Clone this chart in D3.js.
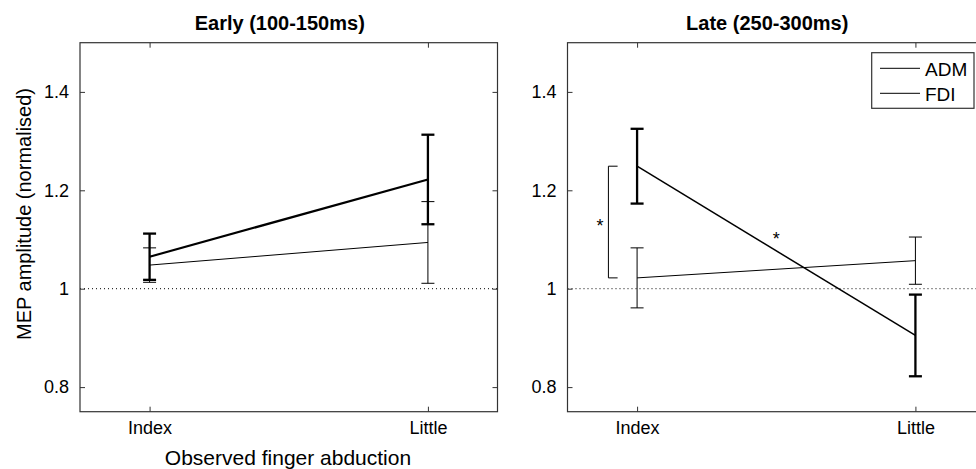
<!DOCTYPE html>
<html>
<head>
<meta charset="utf-8">
<script src="https://cdn.jsdelivr.net/npm/d3@7"></script>
<style>
  body { margin: 0; background: #fff; }
  svg { display: block; font-family: "Liberation Sans", Arial, sans-serif; }
</style>
</head>
<body>
<svg id="chart" width="976" height="469"></svg>
<script>
// --- data ---
var categories = ["Index", "Little"];
var yTicks = [0.8, 1.0, 1.2, 1.4];
var yTickLabels = ["0.8", "1", "1.2", "1.4"];

var earlyADM = [1.048, 1.094];
var earlyADMErr = [0.035, 0.083];
var earlyFDI = [1.065, 1.222];
var earlyFDIErr = [0.047, 0.091];

var lateADM = [1.022, 1.057];
var lateADMErr = [0.061, 0.048];
var lateFDI = [1.249, 0.905];
var lateFDIErr = [0.076, 0.083];

var panelTitles = ["Early (100-150ms)", "Late (250-300ms)"];
var legendLabels = ["ADM", "FDI"];

// significance markers in the late panel (data units)
var bracketX = 0.897;
var bracketCapX = 0.93;
var stars = [[0.867, 1.136], [1.50, 1.111]];

var svg = d3.select("#chart");
var plotTop = 42.7, plotBottom = 411.7;

var y = d3.scaleLinear().domain([0.75, 1.5]).range([plotBottom, plotTop]);

function drawPanel(x0, x1, title, adm, admErr, fdi, fdiErr, fdiLineWidth) {
    var x = d3.scaleLinear().domain([0.75, 2.25]).range([x0, x1]);
    var g = svg.append("g");
    var xIdx = [1, 2];

    // reference line at 1
    g.append("line")
        .attr("x1", x0).attr("x2", x1)
        .attr("y1", y(1)).attr("y2", y(1))
        .attr("stroke", "#000")
        .attr("stroke-dasharray", "1,3");

    // axes (ticks point inward, box on)
    var left = g.append("g").attr("transform", "translate(" + x0 + ",0)")
        .call(d3.axisLeft(y).tickValues(yTicks).tickSize(-5).tickPadding(11)
            .tickFormat((d, i) => yTickLabels[i]));
    var right = g.append("g").attr("transform", "translate(" + x1 + ",0)")
        .call(d3.axisRight(y).tickValues(yTicks).tickSize(-5).tickFormat(""));
    var bot = g.append("g").attr("transform", "translate(0," + plotBottom + ")")
        .call(d3.axisBottom(x).tickValues(xIdx).tickSize(-5).tickPadding(10)
            .tickFormat((d, i) => categories[i]));
    var topAx = g.append("g").attr("transform", "translate(0," + plotTop + ")")
        .call(d3.axisTop(x).tickValues(xIdx).tickSize(-5).tickFormat(""));

    [left, right, bot, topAx].forEach(function(a) {
        a.select(".domain").remove();
        a.selectAll("line").attr("stroke", "#333");
        a.selectAll("text").attr("fill", "#000").style("font-size", "18px")
            .style("font-family", "'Liberation Sans', Arial, sans-serif");
    });

    g.append("rect")
        .attr("x", x0).attr("y", plotTop)
        .attr("width", x1 - x0).attr("height", plotBottom - plotTop)
        .attr("fill", "none").attr("stroke", "#333").attr("stroke-width", 1.2);

    // series
    function series(vals, errs, lw, ew) {
        var line = d3.line().x((d, i) => x(xIdx[i])).y(d => y(d));
        g.append("path").datum(vals)
            .attr("d", line)
            .attr("fill", "none").attr("stroke", "#000").attr("stroke-width", lw);

        vals.forEach(function(v, i) {
            var cx = x(xIdx[i]);
            var eg = g.append("g").attr("stroke", "#000").attr("stroke-width", ew);
            eg.append("line").attr("x1", cx).attr("x2", cx)
                .attr("y1", y(v - errs[i])).attr("y2", y(v + errs[i]));
            [v - errs[i], v + errs[i]].forEach(function(e) {
                eg.append("line").attr("x1", cx - 6.5).attr("x2", cx + 6.5)
                    .attr("y1", y(e)).attr("y2", y(e));
            });
        });
    }
    series(adm, admErr, 1, 1);
    series(fdi, fdiErr, fdiLineWidth, 2.3);

    // title
    svg.append("text")
        .attr("x", (x0 + x1) / 2 - 9).attr("y", 30)
        .attr("text-anchor", "middle")
        .style("font-size", "20px").style("font-weight", "bold")
        .text(title);

    return x;
}

drawPanel(80, 497.5, panelTitles[0], earlyADM, earlyADMErr, earlyFDI, earlyFDIErr, 2.2);
var xLate = drawPanel(567.5, 985, panelTitles[1], lateADM, lateADMErr, lateFDI, lateFDIErr, 1.5);

// bracket between FDI and ADM at Index (late)
svg.append("path")
    .attr("d", "M" + xLate(bracketCapX) + "," + y(lateFDI[0]) +
               "H" + xLate(bracketX) +
               "V" + y(lateADM[0]) +
               "H" + xLate(bracketCapX))
    .attr("fill", "none").attr("stroke", "#000").attr("stroke-width", 1);

stars.forEach(function(s) {
    svg.append("text")
        .attr("x", xLate(s[0])).attr("y", y(s[1]) + 10.5)
        .attr("text-anchor", "middle")
        .style("font-size", "18px")
        .text("*");
});

// legend
var lg = svg.append("g");
lg.append("rect")
    .attr("x", 871.7).attr("y", 52.7).attr("width", 102.3).attr("height", 55.6)
    .attr("fill", "#fff").attr("stroke", "#333").attr("stroke-width", 1.2);
legendLabels.forEach(function(lab, i) {
    var ly = 68.3 + i * 25;
    lg.append("line").attr("x1", 880).attr("x2", 920)
        .attr("y1", ly).attr("y2", ly)
        .attr("stroke", "#000").attr("stroke-width", 1);
    lg.append("text").attr("x", 925).attr("y", ly + 7.5)
        .style("font-size", "19px").text(lab);
});

// axis labels
svg.append("text")
    .attr("x", 288).attr("y", 465)
    .attr("text-anchor", "middle")
    .style("font-size", "21px")
    .text("Observed finger abduction");

svg.append("text")
    .attr("transform", "translate(31,214) rotate(-90)")
    .attr("text-anchor", "middle")
    .style("font-size", "20px")
    .text("MEP amplitude (normalised)");
</script>
</body>
</html>
